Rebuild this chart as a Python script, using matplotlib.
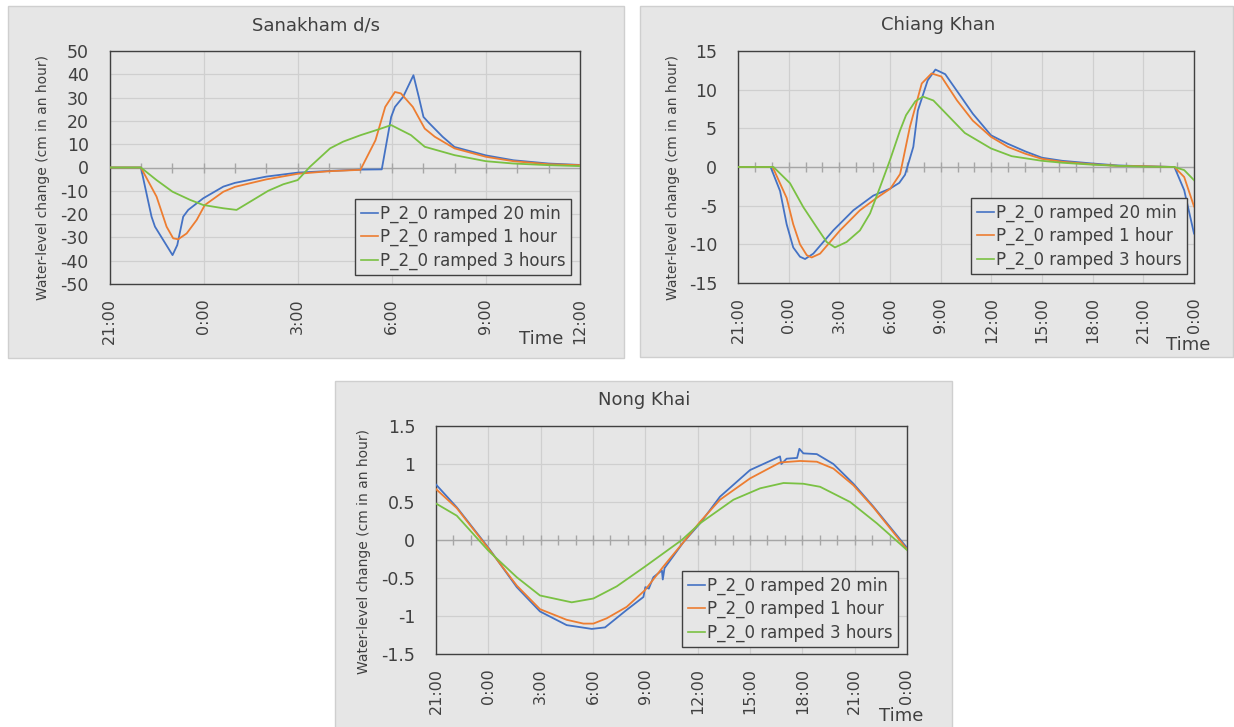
import matplotlib
matplotlib.use('Agg')
import matplotlib.pyplot as plt
from matplotlib.patches import Rectangle
from matplotlib.lines import Line2D

plt.rcParams['font.family'] = ['DejaVu Sans']
plt.rcParams['axes.unicode_minus'] = False

W, H = 1234, 727
BLUE, ORANGE, GREEN = '#4472C4', '#ED7D31', '#7AC143'
TXT = '#404040'
BG = '#e6e6e6'

series_labels = ['P_2_0 ramped 20 min', 'P_2_0 ramped 1 hour', 'P_2_0 ramped 3 hours']

# hours after 21:00
ticks_short = ['21:00', '0:00', '3:00', '6:00', '9:00', '12:00']
ticks_long = ['21:00', '0:00', '3:00', '6:00', '9:00', '12:00', '15:00', '18:00', '21:00', '0:00']

# ---- Sanakham d/s
san_t_20 = [0, 1.0, 1.34, 1.45, 2.01, 2.16, 2.35, 2.51, 2.99, 3.63, 4.0, 5.0, 6.0, 7.0, 8.0, 8.68,
            8.98, 9.1, 9.36, 9.69, 9.86, 10.01, 10.18, 10.62, 11.0, 12.0, 12.88, 14.0, 15.0]
san_20 = [0, 0, -21.1, -25.4, -37.6, -33.3, -21.1, -18.2, -13.2, -8.2, -6.6, -3.9, -2.2, -1.5, -0.9, -0.8,
          21.7, 26, 30.3, 39.6, 30.3, 21.7, 19.2, 13.2, 8.8, 5.2, 3.1, 1.7, 1.1]
san_t_1h = [0, 1.0, 1.5, 1.82, 2.03, 2.19, 2.46, 2.78, 3.04, 3.63, 4.0, 5.0, 6.0, 7.0, 8.0, 8.48,
            8.79, 9.1, 9.29, 9.67, 10.05, 10.37, 11.0, 12.0, 12.88, 14.0, 15.0]
san_1h = [0, 0, -12.5, -25.4, -30.4, -30.8, -28.3, -22.5, -16.1, -10.4, -8.3, -5.1, -2.7, -1.6, -1.0, 11.7,
          26, 32.4, 31.8, 26, 16.7, 13.2, 8.2, 4.6, 2.7, 1.4, 1.0]
san_t_3h = [0, 1.0, 1.5, 2.01, 2.57, 2.99, 3.63, 4.05, 4.58, 5.06, 5.54, 6.0, 6.39, 7.03, 7.45, 8.01,
            8.52, 8.98, 9.61, 10.05, 11.0, 12.0, 12.88, 14.0, 15.0]
san_3h = [0, 0, -5.4, -10.4, -13.9, -16.1, -17.5, -18.2, -13.9, -10.0, -7.2, -5.4, 0.3, 8.2, 11.1, 13.9,
          16.1, 18.2, 13.9, 8.9, 5.3, 2.7, 1.7, 1.0, 0.6]

# ---- Chiang Khan
chk_t_20 = [0, 1.93, 2.49, 2.88, 3.27, 3.67, 3.97, 4.46, 5.64, 6.83, 8.01, 9.0, 9.55, 9.89, 10.38, 10.65,
            11.23, 11.69, 12.27, 13.2, 13.9, 14.98, 15.98, 17.03, 18.0, 19.2, 21.0, 22.5, 24.0, 25.0,
            25.84, 26.42, 27.0]
chk_20 = [0, 0, -3.1, -7.4, -10.4, -11.6, -11.9, -11.2, -8.2, -5.6, -3.7, -2.8, -2.05, -1.0, 2.6, 7.3,
          11.2, 12.6, 12.0, 9.1, 6.9, 4.1, 3.0, 2.0, 1.2, 0.8, 0.45, 0.2, 0.1, 0.05,
          0, -3.0, -8.6]
chk_t_1h = [0, 2.05, 2.88, 3.27, 3.67, 4.07, 4.36, 4.86, 6.04, 7.22, 8.21, 9.02, 9.6, 10.18, 10.88,
            11.46, 12.04, 12.97, 13.9, 14.98, 15.98, 17.03, 18.0, 19.2, 21.0, 22.5, 24.0, 25.84,
            26.42, 27.0]
chk_1h = [0, 0, -4.0, -7.4, -10.0, -11.4, -11.7, -11.2, -8.2, -5.6, -4.0, -2.8, -0.9, 5.2, 10.8,
          12.1, 11.7, 8.6, 6.0, 3.9, 2.6, 1.7, 1.05, 0.67, 0.35, 0.15, 0.1, 0,
          -1.3, -5.1]
chk_t_3h = [0, 2.1, 3.08, 3.87, 4.66, 5.25, 5.74, 6.43, 7.22, 7.82, 8.41, 9.0, 9.59, 9.95, 10.5,
            10.95, 11.57, 12.5, 13.43, 14.98, 16.2, 18.0, 19.2, 21.0, 22.5, 24.0, 25.84, 26.42, 27.0]
chk_3h = [0, 0, -2.1, -5.2, -7.8, -9.7, -10.4, -9.7, -8.2, -6.0, -2.6, 0.9, 4.7, 6.7, 8.5,
          9.1, 8.6, 6.5, 4.4, 2.4, 1.4, 0.8, 0.55, 0.3, 0.15, 0.05, 0, -0.4, -1.7]

# ---- Nong Khai
nk_t_20 = [0, 1.19, 3.0, 4.63, 5.96, 7.49, 8.64, 8.93, 9.69, 10.93, 11.89, 12.0, 12.2, 12.46, 12.95,
           13.0, 13.1, 14.18, 15.14, 16.28, 18.0, 19.72, 19.8, 20.1, 20.7, 20.83, 21.06, 21.83,
           22.78, 23.93, 25.07, 26.99]
nk_20 = [0.73, 0.43, -0.10, -0.62, -0.94, -1.12, -1.16, -1.17, -1.15, -0.92, -0.75, -0.62, -0.64, -0.49,
         -0.40, -0.52, -0.37, -0.03, 0.22, 0.57, 0.92, 1.10, 1.00, 1.07, 1.08, 1.20, 1.14, 1.13,
         1.00, 0.74, 0.44, -0.10]
nk_t_1h = [0, 1.19, 3.0, 4.63, 5.96, 7.49, 8.45, 9.02, 9.79, 10.93, 11.98, 13.03, 14.18, 15.14,
           16.28, 18.0, 19.72, 20.87, 21.83, 22.78, 23.93, 25.07, 26.99]
nk_1h = [0.67, 0.42, -0.11, -0.60, -0.91, -1.05, -1.10, -1.10, -1.03, -0.88, -0.66, -0.35, -0.03, 0.24,
         0.53, 0.81, 1.02, 1.04, 1.03, 0.94, 0.72, 0.43, -0.12]
nk_t_3h = [0, 1.19, 3.0, 4.63, 5.96, 7.78, 9.02, 10.36, 11.98, 14.09, 15.14, 17.05, 18.58, 19.92,
           21.06, 22.02, 23.74, 25.27, 26.99]
nk_3h = [0.48, 0.32, -0.14, -0.49, -0.73, -0.82, -0.77, -0.61, -0.35, 0.0, 0.22, 0.53, 0.68, 0.75,
         0.74, 0.70, 0.50, 0.22, -0.13]


def fig_rect(x0, y0, x1, y1):
    return [x0 / W, 1 - y1 / H, (x1 - x0) / W, (y1 - y0) / H]


def panel(fig, box, plot, title, title_xy, ylabel_xy, time_xy, leg_xy, curves, hours, ticklabels,
          ylim, ystep):
    bx = fig_rect(*box)
    fig.patches.append(Rectangle((bx[0], bx[1]), bx[2], bx[3], transform=fig.transFigure,
                                 facecolor=BG, edgecolor='#cfcfcf', lw=1, zorder=-5))
    ax = fig.add_axes(fig_rect(*plot))
    ax.set_facecolor('none')

    ax.set_xlim(0, hours)
    ax.set_ylim(*ylim)
    xt = list(range(0, hours + 1, 3))
    ax.set_xticks(xt)
    ax.set_xticklabels(ticklabels, rotation=90)
    yt = []
    v = ylim[0]
    while v <= ylim[1] + 1e-9:
        yt.append(round(v, 3))
        v += ystep
    ax.set_yticks(yt)
    ax.set_yticklabels(['%g' % y for y in yt])
    ax.tick_params(axis='both', length=0, colors=TXT)
    ax.tick_params(axis='x', pad=10, labelsize=11.5)
    ax.tick_params(axis='y', pad=15, labelsize=12.5)
    ax.grid(True, color='#cfcfcf', lw=0.9)
    ax.set_axisbelow(True)
    for s in ax.spines.values():
        s.set_color('#404040')
        s.set_linewidth(1.0)

    # zero line with hourly cross ticks
    ax.axhline(0, color='#a6a6a6', lw=1.0, zorder=1)
    hrs = list(range(1, hours))
    ax.plot(hrs, [0] * len(hrs), ls='none', marker='|', ms=6.5, mew=1.0, color='#a6a6a6', zorder=1)

    for (t, y), c in zip(curves, [BLUE, ORANGE, GREEN]):
        ax.plot(t, y, color=c, lw=1.3, zorder=3)

    fig.text(title_xy[0] / W, 1 - title_xy[1] / H, title, ha='center', va='center',
             fontsize=13, color=TXT)
    fig.text(ylabel_xy[0] / W, 1 - ylabel_xy[1] / H, 'Water-level change (cm in an hour)',
             rotation=90, ha='center', va='center', fontsize=10, color=TXT)
    fig.text(time_xy[0] / W, 1 - time_xy[1] / H, 'Time', ha='center', va='center',
             fontsize=13, color=TXT)

    handles = [Line2D([], [], color=c, lw=1.2) for c in [BLUE, ORANGE, GREEN]]
    leg = ax.legend(handles, series_labels, loc='upper left',
                    bbox_to_anchor=(leg_xy[0] / W, 1 - leg_xy[1] / H),
                    bbox_transform=fig.transFigure, borderaxespad=0, fontsize=12,
                    handlelength=1.05, handletextpad=0.08, labelspacing=0.3, borderpad=0.35,
                    fancybox=False, framealpha=1, facecolor=BG, edgecolor='#404040')
    leg.get_frame().set_linewidth(1.0)
    for tx in leg.get_texts():
        tx.set_color(TXT)
    return ax


fig = plt.figure(figsize=(W / 100, H / 100), dpi=100)

panel(fig, (8, 6, 624, 358), (109.5, 51, 580, 284), 'Sanakham d/s', (316, 25), (43, 178), (541, 339),
      (355, 199), [(san_t_20, san_20), (san_t_1h, san_1h), (san_t_3h, san_3h)],
      15, ticks_short, (-50, 50), 10)

panel(fig, (640, 6, 1233, 357), (738, 51, 1194, 283), 'Chiang Khan', (938, 25), (673, 178), (1188, 345),
      (971, 198), [(chk_t_20, chk_20), (chk_t_1h, chk_1h), (chk_t_3h, chk_3h)],
      27, ticks_long, (-15, 15), 5)

panel(fig, (335, 381, 952, 730), (436, 426, 907, 654), 'Nong Khai', (644, 400), (364, 552), (901, 716),
      (682, 571), [(nk_t_20, nk_20), (nk_t_1h, nk_1h), (nk_t_3h, nk_3h)],
      27, ticks_long, (-1.5, 1.5), 0.5)

fig.savefig('out.png', dpi=100)
